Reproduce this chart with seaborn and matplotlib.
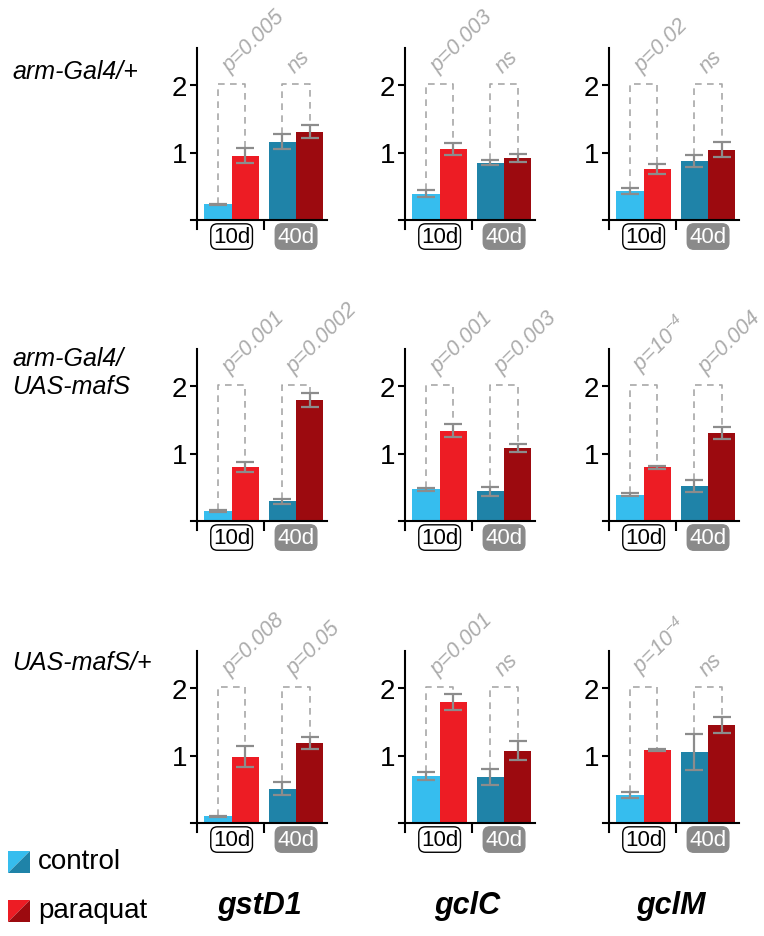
"""
mafs_paraquat_panels.py
-----------------------
3x3 grid of bar charts: relative gstD1 / gclC / gclM expression for three
genotypes, control vs paraquat, at 10 and 40 days.  Saves out.png.
"""

import matplotlib.pyplot as plt
import numpy as np
import pandas as pd
import seaborn as sns
from matplotlib.patches import Polygon

# ── data ──────────────────────────────────────────────────────────────────────
GENES      = ["gstD1", "gclC", "gclM"]
GENOTYPES  = ["arm-Gal4/+", "arm-Gal4/\nUAS-mafS", "UAS-mafS/+"]
AGES       = ["10d", "40d"]
TREATMENTS = ["control", "paraquat"]

# bar order in each panel: 10d control, 10d paraquat, 40d control, 40d paraquat
MEAN_ARM      = [[0.23, 0.95, 1.16, 1.31], [0.39, 1.05, 0.85, 0.92], [0.43, 0.76, 0.875, 1.04]]
MEAN_ARM_MAFS = [[0.15, 0.80, 0.29, 1.79], [0.47, 1.34, 0.44, 1.08], [0.39, 0.795, 0.52, 1.305]]
MEAN_MAFS     = [[0.10, 0.985, 0.51, 1.18], [0.69, 1.79, 0.68, 1.07], [0.415, 1.075, 1.055, 1.45]]

ERR_ARM       = [[0.01, 0.11, 0.11, 0.10], [0.05, 0.09, 0.04, 0.065], [0.045, 0.075, 0.095, 0.11]]
ERR_ARM_MAFS  = [[0.02, 0.077, 0.04, 0.10], [0.025, 0.09, 0.065, 0.055], [0.02, 0.025, 0.09, 0.085]]
ERR_MAFS      = [[0.01, 0.157, 0.10, 0.09], [0.06, 0.115, 0.12, 0.14], [0.047, 0.015, 0.27, 0.12]]

# p-values per panel: [10d, 40d]
PVAL_ARM      = [["p=0.005", "ns"], ["p=0.003", "ns"], ["p=0.02", "ns"]]
PVAL_ARM_MAFS = [["p=0.001", "p=0.0002"], ["p=0.001", "p=0.003"], ["p=10$^{-4}$", "p=0.004"]]
PVAL_MAFS     = [["p=0.008", "p=0.05"], ["p=0.001", "ns"], ["p=10$^{-4}$", "ns"]]

YTICKS = [1, 2]

# ── style ─────────────────────────────────────────────────────────────────────
C_LIGHTBLUE = "#36BDEE"
C_RED       = "#ED1C24"
C_DARKBLUE  = "#1F83A8"
C_DARKRED   = "#9C0A0F"
BAR_COLORS  = [C_LIGHTBLUE, C_RED, C_DARKBLUE, C_DARKRED]
C_ERR       = "#8C8C8C"
C_BRACKET   = "#A8A8A8"
C_PTEXT     = "#ABABAB"
C_40D       = "#8A8A8A"

W, H, DPI = 764, 937, 100
BAR_WIDTH = 0.845
YLIM      = (-0.14, 2.55)
PX_PER_Y  = 67.5

COL_LEFT_PX = [191, 399, 603]
AX_W_PX     = 136
ROW_ZERO_PX = [221, 522, 824]


def px_rect(left, zero_y):
    bottom = zero_y + (-YLIM[0]) * PX_PER_Y
    height = (YLIM[1] - YLIM[0]) * PX_PER_Y
    return [left / W, 1 - bottom / H, AX_W_PX / W, height / H]


def draw_panel(ax, means, errs, pvals):
    df = pd.DataFrame({
        "age":       [a for a in AGES for _ in TREATMENTS],
        "treatment": [t for _ in AGES for t in TREATMENTS],
        "value":     means,
    })
    sns.barplot(data=df, x="age", y="value", hue="treatment",
                order=AGES, hue_order=TREATMENTS, width=BAR_WIDTH,
                errorbar=None, legend=False, saturation=1, ax=ax)

    bars = sorted(ax.patches, key=lambda p: p.get_x())
    centers = []
    for bar, col in zip(bars, BAR_COLORS):
        bar.set_facecolor(col)
        bar.set_edgecolor("none")
        centers.append(bar.get_x() + bar.get_width() / 2)

    ax.errorbar(centers, means, yerr=errs, fmt="none", ecolor=C_ERR,
                elinewidth=1.6, capsize=6.5, capthick=1.6, zorder=4)

    # dashed brackets + p-values
    tops = np.array(means) + np.array(errs)
    for g in range(2):
        xl, xr = centers[2 * g], centers[2 * g + 1]
        ax.plot([xl, xl, xr, xr], [tops[2 * g], 2.02, 2.02, tops[2 * g + 1]],
                ls=(0, (4, 3.2)), color=C_BRACKET, lw=1.2, clip_on=False, zorder=1)
        ax.text(g + 0.03, 2.13, pvals[g], rotation=45, rotation_mode="anchor",
                ha="left", va="bottom", color=C_PTEXT, fontsize=15.5,
                style="italic", clip_on=False)

    # age labels
    ax.text(0, -0.245, "10d", ha="center", va="center", fontsize=16,
            color="black", clip_on=False,
            bbox=dict(boxstyle="round,pad=0.1,rounding_size=0.3",
                      fc="white", ec="black", lw=1.0))
    ax.text(1, -0.245, "40d", ha="center", va="center", fontsize=16,
            color="white", clip_on=False,
            bbox=dict(boxstyle="round,pad=0.1,rounding_size=0.3",
                      fc=C_40D, ec=C_40D, lw=1.0))

    # axes cosmetics
    ax.set_xlim(-0.63, 1.48)
    ax.set_ylim(*YLIM)
    ax.spines[["top", "right"]].set_visible(False)
    ax.spines["left"].set_position(("data", -0.54))
    ax.spines["bottom"].set_position(("data", 0))
    for s in ("left", "bottom"):
        ax.spines[s].set_linewidth(1.5)
        ax.spines[s].set_color("black")
    ax.set_xticks([0.5], [""])
    ax.set_yticks(YTICKS, [str(t) for t in YTICKS])
    ax.tick_params(axis="x", length=7, width=1.5, direction="out", color="black")
    ax.tick_params(axis="y", length=5, width=1.5, direction="out", color="black",
                   labelcolor="black", labelsize=20, pad=2)
    ax.set_xlabel("")
    ax.set_ylabel("")


def legend_square(fig, x0, y0, size, light, dark):
    # split square: upper-left light, lower-right dark (pixel coords)
    def f(x, y):
        return (x / W, 1 - y / H)
    ul = [f(x0, y0), f(x0 + size, y0), f(x0, y0 + size)]
    lr = [f(x0 + size, y0), f(x0 + size, y0 + size), f(x0, y0 + size)]
    fig.patches.append(Polygon(ul, closed=True, fc=light, ec="none",
                               transform=fig.transFigure))
    fig.patches.append(Polygon(lr, closed=True, fc=dark, ec="none",
                               transform=fig.transFigure))


def main():
    sns.set_theme(style="ticks")
    plt.rcParams["font.family"] = ["Liberation Sans", "DejaVu Sans"]
    plt.rcParams["text.color"] = "black"
    plt.rcParams["mathtext.fontset"] = "custom"
    plt.rcParams["mathtext.it"] = "Liberation Sans:italic"
    plt.rcParams["mathtext.rm"] = "Liberation Sans:italic"

    fig = plt.figure(figsize=(W / DPI, H / DPI), dpi=DPI)

    rows = [
        (MEAN_ARM, ERR_ARM, PVAL_ARM),
        (MEAN_ARM_MAFS, ERR_ARM_MAFS, PVAL_ARM_MAFS),
        (MEAN_MAFS, ERR_MAFS, PVAL_MAFS),
    ]
    for r, (means, errs, pvals) in enumerate(rows):
        for c in range(3):
            ax = fig.add_axes(px_rect(COL_LEFT_PX[c], ROW_ZERO_PX[r]))
            draw_panel(ax, means[c], errs[c], pvals[c])

    # genotype row labels
    label_y = [72, 373, 663]
    for txt, y in zip(GENOTYPES, label_y):
        fig.text(12 / W, 1 - y / H, txt, ha="left", va="center", color="black",
                 fontsize=18, style="italic", linespacing=1.2)

    # gene names
    for c, gene in enumerate(GENES):
        fig.text((COL_LEFT_PX[c] + AX_W_PX / 2) / W, 1 - 906 / H, gene,
                 ha="center", va="center", fontsize=22, color="black",
                 style="italic", weight="bold")

    # legend
    legend_square(fig, 8, 852, 22, C_LIGHTBLUE, C_DARKBLUE)
    legend_square(fig, 8, 901, 22, C_RED, C_DARKRED)
    fig.text(38 / W, 1 - 862 / H, "control", ha="left", va="center",
             fontsize=20, color="black")
    fig.text(38 / W, 1 - 911 / H, "paraquat", ha="left", va="center",
             fontsize=20, color="black")

    fig.savefig("out.png", dpi=DPI)
    plt.close(fig)


if __name__ == "__main__":
    main()
